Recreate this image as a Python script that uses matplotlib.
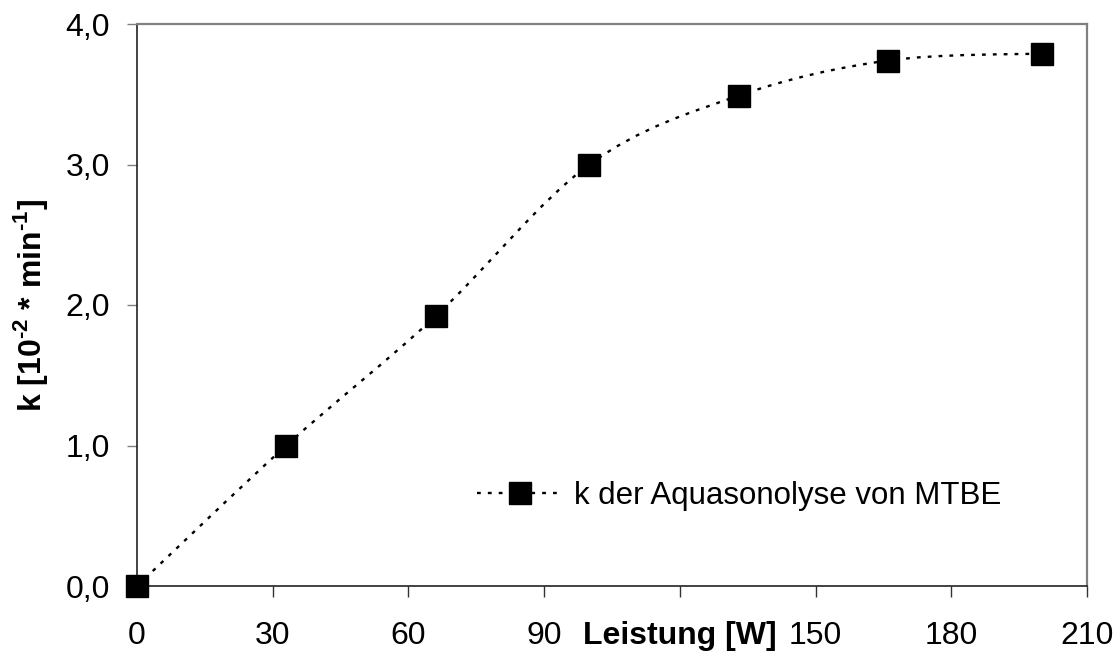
import matplotlib
matplotlib.use("Agg")
import matplotlib.pyplot as plt
from matplotlib.path import Path
from matplotlib.patches import PathPatch
from matplotlib.lines import Line2D

# ---- data ----
leistung = [0, 33, 66, 100, 133, 166, 200]
k_values = [0.0, 1.0, 1.92, 3.0, 3.49, 3.74, 3.79]
x_ticks = [0, 30, 60, 90, 120, 150, 180, 210]
x_ticklabels = ["0", "30", "60", "90", "Leistung [W]", "150", "180", "210"]
y_ticks = [0.0, 1.0, 2.0, 3.0, 4.0]
y_ticklabels = ["0,0", "1,0", "2,0", "3,0", "4,0"]
series_label = "k der Aquasonolyse von MTBE"
y_label = r"k [10$^{\text{-2}}$ * min$^{\text{-1}}$]"

plt.rcParams['font.family'] = ['Liberation Sans', 'DejaVu Sans']
plt.rcParams['mathtext.fontset'] = 'custom'
plt.rcParams['mathtext.rm'] = 'Liberation Sans:bold'
plt.rcParams['mathtext.bf'] = 'Liberation Sans:bold'

FS = 23
FS_LEG = 22.5

fig = plt.figure(figsize=(11.2, 6.51), dpi=100)
ax = fig.add_axes([137/1120, 65/651, 950/1120, 562/651])
ax.set_xlim(0, 210)
ax.set_ylim(0, 4)

# smoothed (Excel-like) curve through the data points, built as cubic Bezier path
pts = list(zip(leistung, k_values))
verts = [pts[0]]
codes = [Path.MOVETO]
n = len(pts)
for i in range(n - 1):
    p0 = pts[i - 1] if i > 0 else pts[i]
    p1 = pts[i]
    p2 = pts[i + 1]
    p3 = pts[i + 2] if i + 2 < n else pts[i + 1]
    c1 = (p1[0] + (p2[0] - p0[0]) / 6.0, p1[1] + (p2[1] - p0[1]) / 6.0)
    c2 = (p2[0] - (p3[0] - p1[0]) / 6.0, p2[1] - (p3[1] - p1[1]) / 6.0)
    verts += [c1, c2, p2]
    codes += [Path.CURVE4, Path.CURVE4, Path.CURVE4]
ls = (0, (1.6, 3.0))
patch = PathPatch(Path(verts, codes), fill=False, edgecolor='black',
                  linewidth=1.7, linestyle=ls, zorder=3)
ax.add_patch(patch)

ax.plot(leistung, k_values, linestyle='none', marker='s', markersize=15.5,
        color='black', clip_on=False, zorder=5)

# axes styling
for side in ['top', 'right']:
    ax.spines[side].set_color('#808080')
    ax.spines[side].set_linewidth(1.6)
for side in ['left', 'bottom']:
    ax.spines[side].set_color('#222222')
    ax.spines[side].set_linewidth(1.2)

ax.set_xticks(x_ticks)
ax.set_xticklabels(x_ticklabels)
ax.set_yticks(y_ticks)
ax.set_yticklabels(y_ticklabels)
ax.tick_params(axis='x', direction='out', length=8, width=1.0, color='#333333',
               labelsize=FS, pad=17)
ax.tick_params(axis='y', direction='out', length=7.5, width=1.0, color='#808080',
               labelsize=FS, pad=12)
ax.get_xticklabels()[4].set_fontweight('bold')

ax.set_ylabel(y_label, fontsize=FS, fontweight='bold')
ax.yaxis.set_label_coords(-0.092, 0.5)

handle = Line2D([], [], color='black', linewidth=1.7, linestyle=ls,
                marker='s', markersize=15.5)
ax.legend([handle], [series_label], loc='center left',
          bbox_to_anchor=(0.358, 0.16), frameon=False, fontsize=FS_LEG,
          handlelength=2.75, handletextpad=0.35, borderpad=0, borderaxespad=0)

fig.savefig("out.png", dpi=100)
